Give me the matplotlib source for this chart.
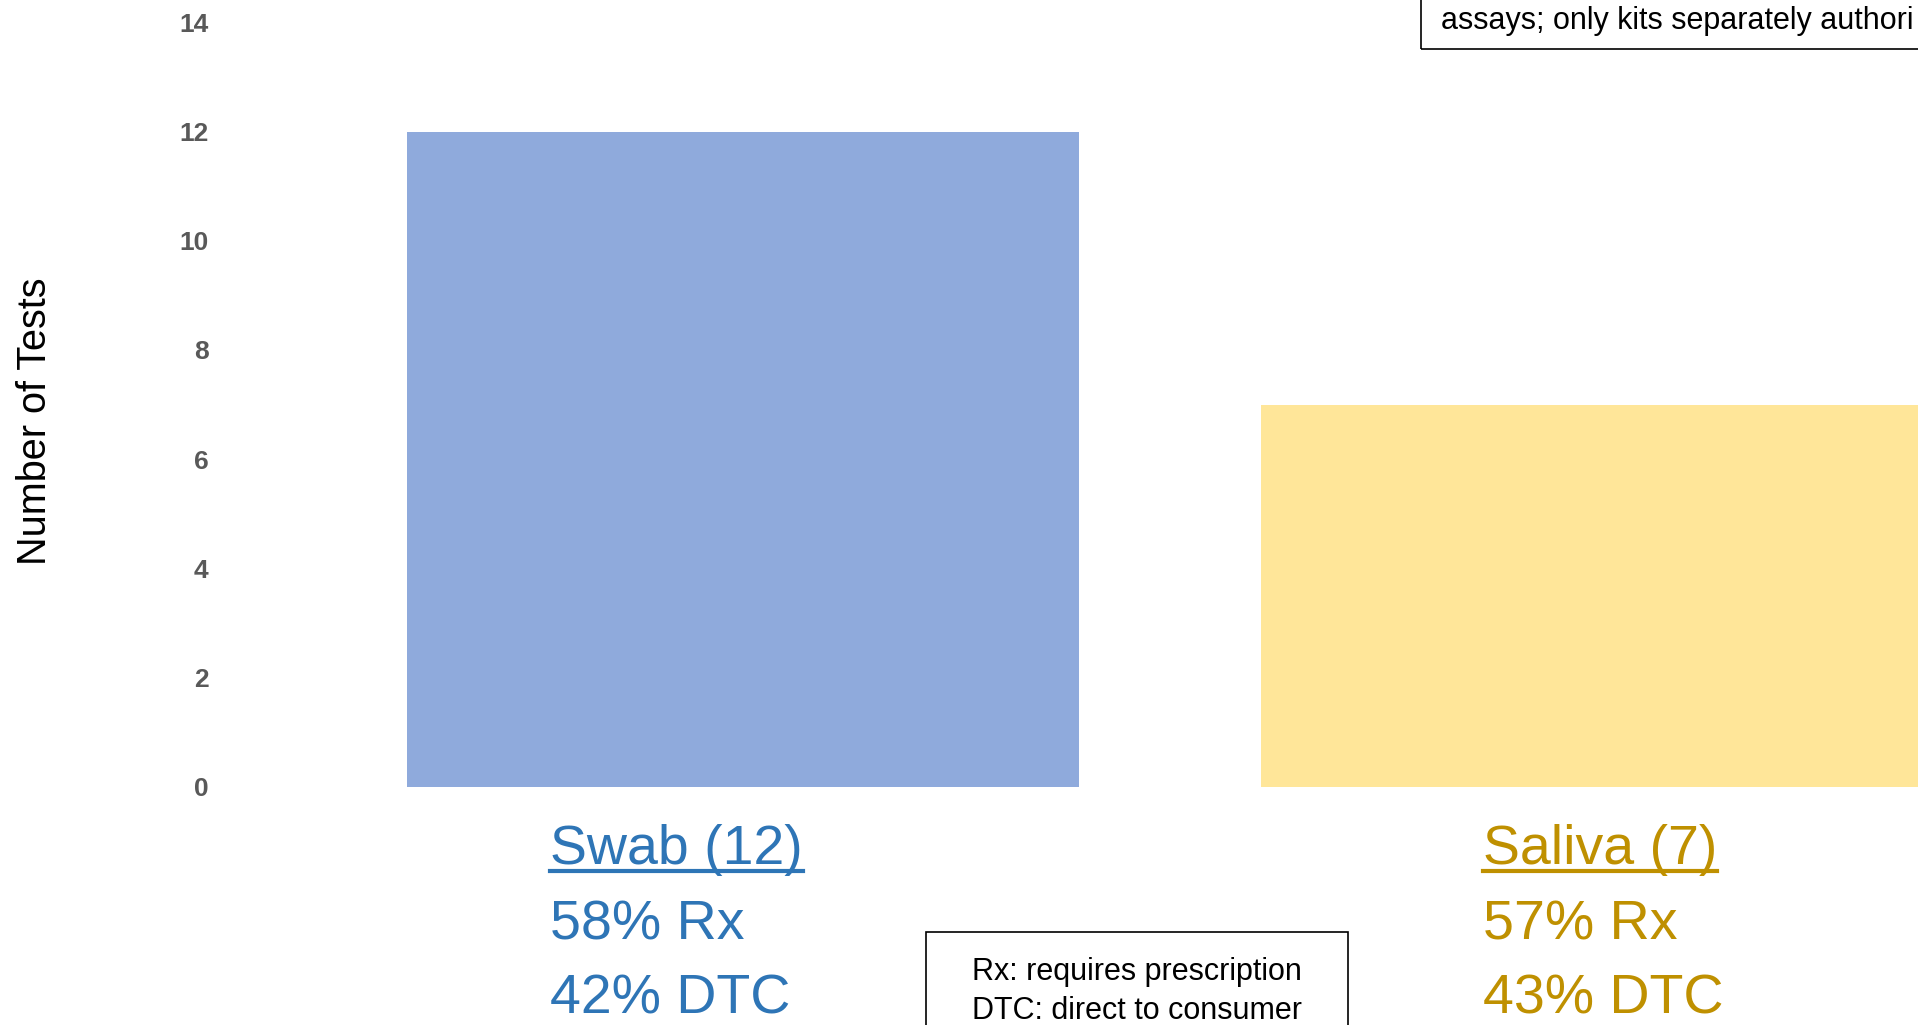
#!/usr/bin/env python3
"""Swab vs saliva test counts, bar chart with Rx / DTC split under each bar."""
import matplotlib
matplotlib.use("Agg")
import matplotlib.pyplot as plt
from matplotlib.lines import Line2D
from matplotlib.patches import Rectangle
from matplotlib.transforms import blended_transform_factory

plt.rcParams["font.family"] = ["Liberation Sans", "DejaVu Sans"]

# ---- data ----
categories = ["Swab", "Saliva"]
counts = [12, 7]
rx_pct = [58, 57]
dtc_pct = [42, 43]
yticks = [0, 2, 4, 6, 8, 10, 12, 14]
bar_colors = ["#8FAADC", "#FFE699"]
text_colors = ["#2E75B6", "#BF9000"]
label_offsets = [-0.226, -0.134]   # label left edge relative to bar centre

W, H = 1918, 1025
fig = plt.figure(figsize=(W / 100, H / 100), dpi=100)
ax = fig.add_axes([230.6 / W, 1 - 786.5 / H, 1708 / W, 764 / H])

x = list(range(len(categories)))
ax.bar(x, counts, width=0.787, color=bar_colors)
ax.set_xlim(-0.6, 1.4)
ax.set_ylim(0, 14)
ax.set_yticks(yticks)
ax.set_yticklabels([str(t) for t in yticks], fontsize=19, fontweight="bold", color="#595959")
ax.tick_params(axis="y", length=0, pad=16)
ax.set_xticks([])
for s in ax.spines.values():
    s.set_visible(False)

fig.text(35 / W, 1 - 421 / H, "Number of Tests", rotation=90, fontsize=28.5,
         ha="center", va="center", color="black")

# category labels below bars
tr = blended_transform_factory(ax.transData, fig.transFigure)
name_texts = []
for i, cat in enumerate(categories):
    xl = x[i] + label_offsets[i]
    lines = [f"{cat} ({counts[i]})", f"{rx_pct[i]}% Rx", f"{dtc_pct[i]}% DTC"]
    for j, (ln, base) in enumerate(zip(lines, [864, 939, 1013])):
        t = ax.text(xl, 1 - base / H, ln, transform=tr, fontsize=40, color=text_colors[i],
                    ha="left", va="baseline", clip_on=False)
        if j == 0:
            name_texts.append((t, text_colors[i]))

# underline the category names
fig.canvas.draw()
rend = fig.canvas.get_renderer()
for t, c in name_texts:
    bb = t.get_window_extent(renderer=rend)
    yb = (H - 871) / H
    fig.add_artist(Line2D([bb.x0 / W, bb.x1 / W], [yb, yb], color=c, lw=3.0,
                          transform=fig.transFigure))

# note box, bottom
fig.add_artist(Rectangle((926 / W, -0.05), 422 / W, 0.05 + 1 - 932 / H, fill=False,
                         edgecolor="black", lw=1.2, transform=fig.transFigure))
fig.text(1137 / W, 1 - 980 / H, "Rx: requires prescription", fontsize=22,
         ha="center", va="baseline")
fig.text(1137 / W, 1 - 1019 / H, "DTC: direct to consumer", fontsize=22,
         ha="center", va="baseline")

# note box, top right (mostly outside the frame)
fig.add_artist(Rectangle((1421 / W, 1 - 49 / H), 600 / W, 0.2, fill=False,
                         edgecolor="black", lw=1.2, transform=fig.transFigure))
fig.text(1441 / W, 1 - 29 / H, "assays; only kits separately authori", fontsize=22,
         ha="left", va="baseline")

fig.savefig("out.png", dpi=100)
